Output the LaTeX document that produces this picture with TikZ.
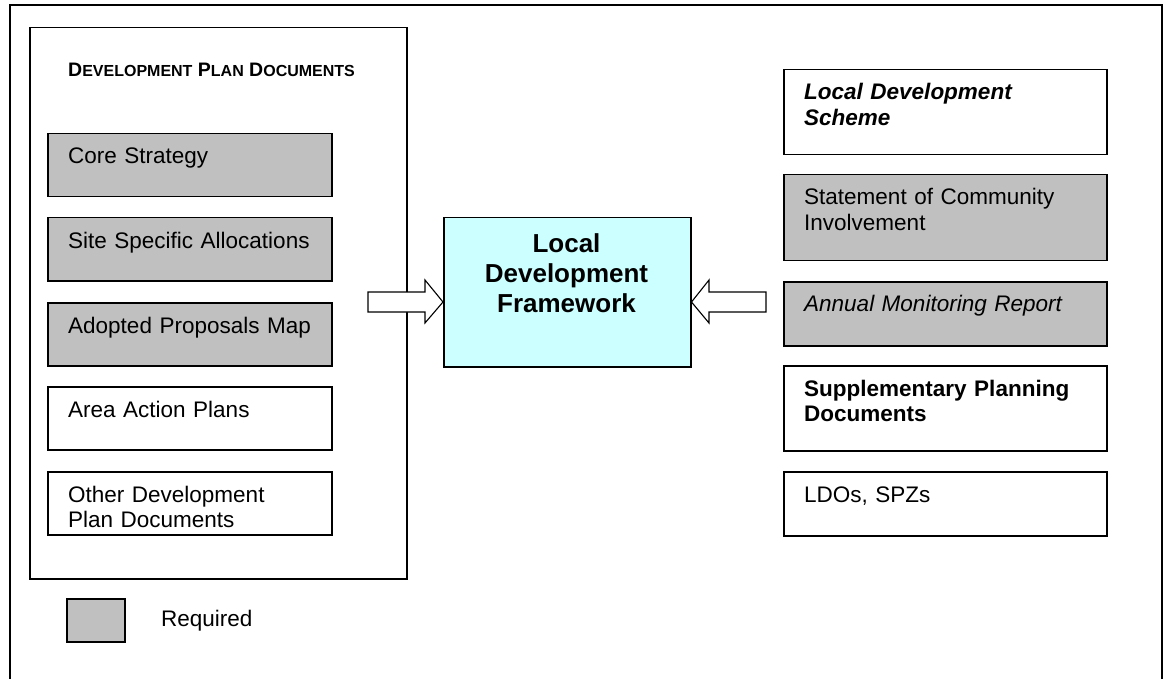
\documentclass[tikz,border=0pt]{standalone}
\usepackage{fontspec}
\setmainfont{Liberation Sans}
\begin{document}
\begin{tikzpicture}[x=1pt,y=-1pt,
  frame/.style={draw=black,line width=1.1pt},
  docbox/.style={draw=black,line width=1.5pt,minimum width=284pt,minimum height=63pt,inner sep=0pt,anchor=north west},
  reqbox/.style={docbox,fill=reqgray},
  rbox/.style={docbox,minimum width=323pt},
  rreq/.style={rbox,fill=reqgray},
  txt/.style={anchor=base west,inner sep=0pt,text width=300pt,align=left,font=\fontsize{22.5}{25.5}\selectfont},
  blockarrow/.style={draw=black,line width=1.1pt,fill=white,line join=miter}
]
\definecolor{reqgray}{HTML}{C0C0C0}
\definecolor{ldfcyan}{HTML}{CCFFFF}
\useasboundingbox (0,0) rectangle (1165,679);
\begin{scope}
\clip (0,0) rectangle (1165,679);
\draw[frame] (10,690) -- (10,5) -- (1162,5) -- (1162,690);
\end{scope}

% left DPD container
\node[draw=black,line width=1.5pt,minimum width=377pt,minimum height=551pt,inner sep=0pt,anchor=north west] (dpd) at (29,27) {};
\node[anchor=base west,inner sep=0pt,font=\bfseries] (dpdtitle) at (68,77)
  {{\fontsize{19.5}{21}\selectfont D}{\fontsize{16}{18}\selectfont EVELOPMENT}\fontsize{19.5}{21}\selectfont{} P{\fontsize{16}{18}\selectfont LAN} D{\fontsize{16}{18}\selectfont OCUMENTS}};

\node[reqbox] (core) at (47,133) {};
\node[txt] (coret) at ([xshift=21pt,yshift=-31pt]core.north west) {Core Strategy};
\node[reqbox] (site) at (47,217) {};
\node[txt] (sitet) at ([xshift=21pt,yshift=-31pt]site.north west) {Site Specific Allocations};
\node[reqbox] (apm) at (47,302) {};
\node[txt] (apmt) at ([xshift=21pt,yshift=-31pt]apm.north west) {Adopted Proposals Map};
\node[docbox] (aap) at (47,386) {};
\node[txt] (aapt) at ([xshift=21pt,yshift=-31pt]aap.north west) {Area Action Plans};
\node[docbox] (odpd) at (47,471) {};
\node[txt] (odpdt) at ([xshift=21pt,yshift=-31pt]odpd.north west) {Other Development\\Plan Documents};

% legend
\node[draw=black,line width=1.5pt,fill=reqgray,minimum width=58pt,minimum height=43pt,inner sep=0pt,anchor=north west] (leg) at (66,598) {};
\node[anchor=west,inner sep=0pt,font=\fontsize{22.5}{25.5}\selectfont] (legt) at (161,621) {Required};

% centre
\node[draw=black,line width=1.5pt,fill=ldfcyan,minimum width=247pt,minimum height=149pt,inner sep=0pt,anchor=north west] (ldf) at (443,217) {};
\node[anchor=base,inner sep=0pt,text width=245pt,align=center,font=\bfseries\fontsize{26}{30}\selectfont] (ldft) at (566.5,253) {Local\\Development\\Framework};

% right boxes
\node[rbox,minimum height=85pt] (lds) at (783,69) {};
\node[txt] (ldst) at ([xshift=21pt,yshift=-31pt]lds.north west) {\bfseries\itshape Local Development\\Scheme};
\node[rreq,minimum height=86pt] (sci) at (783,174) {};
\node[txt] (scit) at ([xshift=21pt,yshift=-31pt]sci.north west) {Statement of Community\\Involvement};
\node[rreq,minimum height=64pt] (amr) at (783,281) {};
\node[txt] (amrt) at ([xshift=21pt,yshift=-31pt]amr.north west) {\itshape Annual Monitoring Report};
\node[rbox,minimum height=85pt] (spd) at (783,365) {};
\node[txt] (spdt) at ([xshift=21pt,yshift=-31pt]spd.north west) {\bfseries Supplementary Planning\\Documents};
\node[rbox,minimum height=64pt] (ldo) at (783,471) {};
\node[txt] (ldot) at ([xshift=21pt,yshift=-31pt]ldo.north west) {LDOs, SPZs};

% block arrows
\draw[blockarrow] (368,292) -- (425,292) -- (425,280) -- (ldf.west |- 0,302) -- (425,323) -- (425,312) -- (368,312) -- cycle;
\draw[blockarrow] (766,292) -- (709,292) -- (709,280) -- (ldf.east |- 0,302) -- (709,323) -- (709,312) -- (766,312) -- cycle;
\end{tikzpicture}
\end{document}
